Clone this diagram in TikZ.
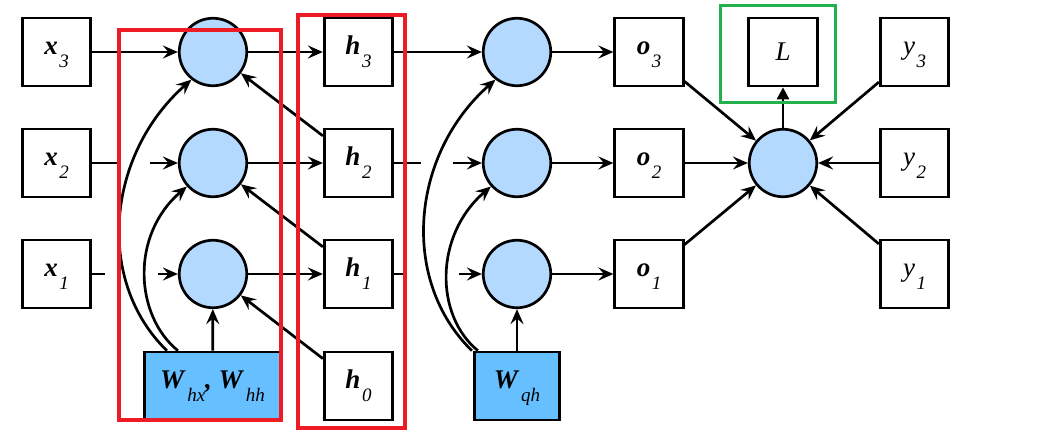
\documentclass[tikz,border=0pt]{standalone}
\usepackage{fontspec}
\setmainfont{Liberation Serif}
\usetikzlibrary{arrows.meta,calc}
\definecolor{cfill}{RGB}{179,217,255}
\definecolor{wfill}{RGB}{102,191,255}
\definecolor{rboxc}{RGB}{237,28,36}
\definecolor{gboxc}{RGB}{34,177,76}
\newcommand\sbs[2]{#1\kern1.5pt\raisebox{-13pt}{\fontsize{19}{19}\selectfont\mdseries\itshape #2}}
\newcommand\bv[1]{\textbf{\textit{#1}}}
\begin{document}
\begin{tikzpicture}[x=1pt,y=1pt,
  every node/.style={font=\fontsize{27}{27}\selectfont},
  box/.style={draw, line width=2.7pt, minimum width=68.5pt, minimum height=68pt, inner sep=0pt, text height=18pt, text depth=13pt},
  plainbox/.style={draw, line width=2.7pt, minimum width=68.5pt, minimum height=68pt, inner sep=0pt},
  wbox/.style={box, fill=wfill},
  cell/.style={draw, circle, line width=2.7pt, fill=cfill, minimum size=67.5pt, inner sep=0pt},
  conn/.style={line width=2.7pt, -{Stealth[length=15pt,width=13pt,inset=5.5pt]}},
  seg/.style={line width=2.7pt},
  lossarrow/.style={line width=2.7pt, -{Triangle[length=12pt,width=12pt]}},
  redframe/.style={draw=rboxc, line width=3.5pt},
  greenframe/.style={draw=gboxc, line width=3.2pt}]
\useasboundingbox (0,0) rectangle (1043,-441);

% inputs
\node[box] (x3) at (56.5,-52) {\sbs{\bv{x}}{3}};
\node[box] (x2) at (56.5,-163) {\sbs{\bv{x}}{2}};
\node[box] (x1) at (56.5,-274) {\sbs{\bv{x}}{1}};
% hidden cells
\node[cell] (A3) at (213,-52) {};
\node[cell] (A2) at (213,-163) {};
\node[cell] (A1) at (213,-274) {};
% hidden states
\node[box] (h3) at (358.5,-52) {\sbs{\bv{h}}{3}};
\node[box] (h2) at (358.5,-163) {\sbs{\bv{h}}{2}};
\node[box] (h1) at (358.5,-274) {\sbs{\bv{h}}{1}};
\node[box] (h0) at (358.5,-386) {\sbs{\bv{h}}{0}};
% output cells
\node[cell] (B3) at (517,-52) {};
\node[cell] (B2) at (517,-163) {};
\node[cell] (B1) at (517,-274) {};
% outputs
\node[box] (o3) at (649,-52) {\sbs{\bv{o}}{3}};
\node[box] (o2) at (649,-163) {\sbs{\bv{o}}{2}};
\node[box] (o1) at (649,-274) {\sbs{\bv{o}}{1}};
% loss
\node[cell] (C) at (783,-163) {};
\node[plainbox] (L) at (783,-52) {\textit{L}};
% labels
\node[box] (y3) at (914.5,-52) {\sbs{\textit{y}}{3}};
\node[box] (y2) at (914.5,-163) {\sbs{\textit{y}}{2}};
\node[box] (y1) at (914.5,-274) {\sbs{\textit{y}}{1}};
% weights
\node[wbox, minimum width=136.5pt] (Whx) at (212.5,-386) {\sbs{\bv{W}}{hx}\bv{,} \sbs{\bv{W}}{hh}};
\node[wbox, minimum width=85.5pt] (Wqh) at (517,-386) {\sbs{\bv{W}}{qh}};

% x -> A
\draw[conn] (x3) -- (A3);
\draw[seg] (x2.east) -- ($(x2.east)!0.29!(A2.west)$);
\draw[conn] ($(x2.east)!0.68!(A2.west)$) -- (A2);
\draw[seg] (x1.east) -- ($(x1.east)!0.15!(A1.west)$);
\draw[conn] ($(x1.east)!0.77!(A1.west)$) -- (A1);

% A -> h
\draw[conn] (A3) -- (h3);
\draw[conn] (A2) -- (h2);
\draw[conn] (A1) -- (h1);

% h(t-1) -> A
\draw[conn] (h2) -- (A3);
\draw[conn] (h1) -- (A2);
\draw[conn] (h0) -- (A1);

% Whx -> A
\draw[conn] (Whx) -- (A1);
\draw[conn] ($(Whx.north west)+(24,0)$) .. controls +(-72,70) and +(-85,-75) .. (A3.-128);
\draw[conn] ($(Whx.north west)+(35,0)$) .. controls +(-43,35) and +(-57,-49) .. (A2.-138);

% h -> B
\draw[conn] (h3) -- (B3);
\draw[seg] (h2.east) -- ($(h2.east)!0.31!(B2.west)$);
\draw[conn] ($(h2.east)!0.67!(B2.west)$) -- (B2);
\draw[seg] (h1.east) -- ($(h1.east)!0.12!(B1.west)$);
\draw[conn] ($(h1.east)!0.74!(B1.west)$) -- (B1);

% Wqh -> B
\draw[conn] (Wqh) -- (B1);
\draw[conn] ($(Wqh.north west)+(-1,0)$) .. controls +(-72,70) and +(-85,-75) .. (B3.-128);
\draw[conn] ($(Wqh.north west)+(5,0)$) .. controls +(-43,35) and +(-57,-49) .. (B2.-138);

% B -> o
\draw[conn] (B3) -- (o3);
\draw[conn] (B2) -- (o2);
\draw[conn] (B1) -- (o1);

% o, y -> C
\draw[conn] (o3) -- (C);
\draw[conn] (o2) -- (C);
\draw[conn] (o1) -- (C);
\draw[conn] (y3) -- (C);
\draw[conn] (y2) -- (C);
\draw[conn] (y1) -- (C);

% C -> L
\draw[lossarrow] (C) -- (L);

% frames (on top)
\draw[redframe] (119,-30) rectangle (281,-420);
\draw[redframe] (298,-15) rectangle (405,-428);
\draw[greenframe] (720.5,-5.5) rectangle (835.5,-102.5);
\end{tikzpicture}
\end{document}
